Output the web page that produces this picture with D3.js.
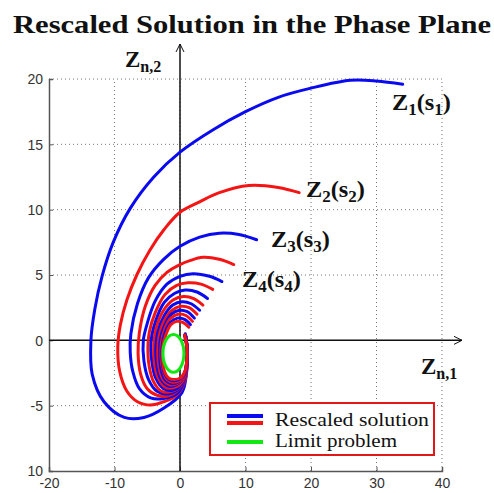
<!DOCTYPE html>
<html>
<head>
<meta charset="utf-8">
<script src="https://cdn.jsdelivr.net/npm/d3@7"></script>
<style>
  html, body { margin: 0; padding: 0; background: #fff; }
  svg { display: block; }
</style>
</head>
<body>
<svg id="chart" width="494" height="493"></svg>
<script>
// Axis ranges and tick labels
const xDomain = [-20, 40];
const yDomain = [-10, 20];
const xTicks = [-20, -10, 0, 10, 20, 30, 40];
const xTickLabels = ["-20", "-10", "0", "10", "20", "30", "40"];
const yTicks = [-10, -5, 0, 5, 10, 15, 20];
const yTickLabels = ["10", "-5", "0", "5", "10", "15", "20"];

// Trajectories of the rescaled solution, (z1, z2) pairs, outermost first
const traj1 = [[34,19.6],[30,19.85],[26,19.9],[20,19.3],[15,18.6],[10,17.5],[5,16.1],[0,14.4],[-4,12.5],[-7.6,10.1],[-10.2,7.5],[-11.9,4.9],[-13,2.4],[-13.6,0],[-13.4,-2.6],[-11.6,-4.7],[-8.5,-5.9],[-5.5,-5.9],[-2.5,-5.2],[0.3,-4.0],[1.0,-2.5],[1.1,-0.8],[0.8,0.5]];
const traj2 = [[18.2,11.3],[15,11.7],[10.5,11.85],[6,11.3],[3,10.6],[0,9.8],[-2.4,8.5],[-4.6,6.9],[-6.6,5.0],[-8.1,3.1],[-9.1,1.2],[-9.5,-0.5],[-9.2,-2.4],[-8.1,-3.9],[-6.5,-4.7],[-4.5,-4.95],[-2.5,-4.7],[-0.5,-4.2],[0.8,-3],[1.1,-1.2],[0.9,0.3]];
const traj3 = [[11.7,7.7],[9,8.1],[6,8.2],[3,7.9],[0,7.2],[-2.5,6.2],[-4.8,4.8],[-6.5,2.8],[-7.5,0.5],[-7.6,-0.9],[-7.2,-2.4],[-6.2,-3.7],[-4.5,-4.4],[-2.5,-4.45],[-0.3,-4.0],[0.8,-2.8],[1.1,-1.2],[0.9,0.3]];
const traj4 = [[8.2,5.8],[6,6.2],[3.5,6.35],[1.5,6.1],[0,5.8],[-2,5.2],[-3.8,4.2],[-5.3,2.6],[-6.2,0.6],[-6.4,-1.0],[-6.0,-2.6],[-5.0,-3.7],[-3.5,-4.2],[-1.8,-4.25],[-0.3,-3.8],[0.8,-2.7],[1.1,-1.2],[0.9,0.3]];
const traj5 = [[6.4,4.5],[4.5,4.9],[2,5.1],[0,4.9],[-2,4.3],[-3.8,3],[-5,1.3],[-5.6,0],[-5.5,-1.6],[-4.8,-3],[-3.5,-3.9],[-1.8,-4.1],[-0.2,-3.7],[0.8,-2.6],[1.1,-1.1],[0.9,0.3]];
const traj6 = [[5,3.9],[3.2,4.3],[1.2,4.4],[-0.5,4.2],[-2.3,3.5],[-3.8,2.1],[-4.7,0.6],[-4.9,-0.5],[-4.7,-2],[-4,-3.2],[-2.8,-3.9],[-1.2,-3.9],[0.2,-3.4],[1,-2.2],[1.1,-0.8],[0.8,0.4]];
const traj7 = [[4.2,3.2],[2.6,3.7],[0.8,3.85],[-0.8,3.6],[-2.4,2.9],[-3.7,1.5],[-4.4,0],[-4.3,-1.6],[-3.7,-2.9],[-2.5,-3.7],[-1,-3.8],[0.3,-3.3],[1,-2.1],[1.1,-0.7],[0.8,0.4]];
const traj8 = [[3.5,2.7],[2.1,3.2],[0.5,3.35],[-1,3.1],[-2.5,2.3],[-3.6,1],[-4,-0.3],[-3.9,-1.8],[-3.3,-2.9],[-2.2,-3.6],[-0.8,-3.6],[0.4,-3.1],[1,-2],[1.1,-0.6],[0.8,0.4]];
const traj9 = [[3,2.3],[1.7,2.8],[0.3,2.95],[-1.1,2.7],[-2.4,1.9],[-3.4,0.6],[-3.7,-0.7],[-3.5,-2],[-2.9,-3],[-1.8,-3.5],[-0.5,-3.4],[0.5,-2.9],[1.05,-1.8],[1.1,-0.5],[0.8,0.4]];
const traj10 = [[2.6,2],[1.4,2.5],[0.1,2.6],[-1.2,2.3],[-2.4,1.5],[-3.2,0.3],[-3.4,-0.9],[-3.2,-2.1],[-2.6,-3],[-1.6,-3.4],[-0.4,-3.3],[0.6,-2.8],[1.05,-1.7],[1.1,-0.5],[0.8,0.4]];
const traj11 = [[2.2,1.7],[1.1,2.2],[-0.1,2.3],[-1.3,2],[-2.3,1.2],[-3,0.1],[-3.1,-1.1],[-2.9,-2.2],[-2.3,-3],[-1.4,-3.3],[-0.3,-3.2],[0.6,-2.7],[1.05,-1.6],[1.05,-0.4],[0.8,0.4]];
const traj12 = [[1.9,1.45],[0.9,1.9],[-0.3,2.0],[-1.4,1.7],[-2.3,0.9],[-2.85,-0.2],[-2.9,-1.3],[-2.6,-2.3],[-2,-3],[-1.1,-3.2],[-0.1,-3.1],[0.7,-2.5],[1.05,-1.5],[1.0,-0.4],[0.7,0.4]];
const traj13 = [[1.6,1.2],[0.7,1.6],[-0.4,1.7],[-1.4,1.4],[-2.2,0.7],[-2.7,-0.3],[-2.75,-1.4],[-2.45,-2.4],[-1.8,-2.95],[-0.9,-3.1],[0,-2.95],[0.75,-2.4],[1.05,-1.4],[1.0,-0.3],[0.7,0.4]];
const traj14 = [[1.35,1.0],[0.5,1.35],[-0.5,1.45],[-1.4,1.2],[-2.1,0.5],[-2.6,-0.4],[-2.65,-1.5],[-2.35,-2.4],[-1.7,-2.9],[-0.8,-3.0],[0.1,-2.85],[0.8,-2.3],[1.05,-1.3],[1.0,-0.3],[0.7,0.4]];
const trajectories = [traj1, traj2, traj3, traj4, traj5, traj6, traj7, traj8, traj9, traj10, traj11, traj12, traj13, traj14];
const trajColors = ["blue", "red"];

// Limit problem: closed orbit (centre and half-axes)
const limitCenter = [-1.0, -1.0];
const limitRadii = [1.6, 1.45];

// Curve labels Z_k(s_k)
const curveLabels = ["1", "2", "3", "4"];

const COLORS = { blue: "#0a0af0", red: "#f41414", green: "#12e812" };

const svg = d3.select("#chart");
const x = d3.scaleLinear().domain(xDomain).range([49, 442]);
const y = d3.scaleLinear().domain(yDomain).range([471, 79]);

const TICK_FONT = "Liberation Sans, Arial, sans-serif";
const SERIF = "Liberation Serif, 'DejaVu Serif', serif";

// Title
svg.append("text")
  .attr("x", 252).attr("y", 33)
  .attr("text-anchor", "middle")
  .attr("font-family", SERIF)
  .attr("font-weight", "bold")
  .attr("font-size", 26)
  .attr("textLength", 478)
  .attr("lengthAdjust", "spacingAndGlyphs")
  .attr("fill", "#111")
  .text("Rescaled Solution in the Phase Plane");

// Dotted grid
const grid = svg.append("g");
grid.selectAll("line.gx").data(xTicks.filter(d => d !== xDomain[0])).join("line")
  .attr("x1", d => x(d)).attr("x2", d => x(d))
  .attr("y1", y(yDomain[0])).attr("y2", y(yDomain[1]))
  .attr("stroke", "#777").attr("stroke-width", 1).attr("stroke-dasharray", "1,3");
grid.selectAll("line.gy").data(yTicks.filter(d => d !== yDomain[0])).join("line")
  .attr("x1", x(xDomain[0])).attr("x2", x(xDomain[1]))
  .attr("y1", d => y(d)).attr("y2", d => y(d))
  .attr("stroke", "#777").attr("stroke-width", 1).attr("stroke-dasharray", "1,3");

// Left and bottom axes with inward ticks
const xAxis = d3.axisBottom(x).tickValues(xTicks).tickSize(-4).tickPadding(9)
  .tickFormat((d, i) => xTickLabels[i]);
const yAxis = d3.axisLeft(y).tickValues(yTicks).tickSize(-4).tickPadding(6)
  .tickFormat((d, i) => yTickLabels[i]);

const gx = svg.append("g").attr("transform", `translate(0,${y(yDomain[0])})`).call(xAxis);
const gy = svg.append("g").attr("transform", `translate(${x(xDomain[0])},0)`).call(yAxis);
[gx, gy].forEach(g => {
  g.select(".domain").attr("stroke", "#555").attr("stroke-width", 1.5);
  g.selectAll(".tick line").attr("stroke", "#555");
  g.selectAll(".tick text")
    .attr("font-family", TICK_FONT).attr("font-size", 14).attr("fill", "#333");
});
gx.selectAll(".tick text").attr("dy", "0.55em");
gy.selectAll(".tick text").attr("dy", "0.35em");

// Coordinate axes through the origin with arrow heads
const axisColor = "#111";
svg.append("line")
  .attr("x1", x(0)).attr("x2", x(0)).attr("y1", 44).attr("y2", y(yDomain[0]))
  .attr("stroke", axisColor).attr("stroke-width", 1.5);
svg.append("path")
  .attr("d", `M${x(0) - 4},${52} L${x(0)},${44} L${x(0) + 4},${52}`)
  .attr("fill", "none").attr("stroke", axisColor).attr("stroke-width", 1);
svg.append("line")
  .attr("x1", x(xDomain[0])).attr("x2", 462).attr("y1", y(0)).attr("y2", y(0))
  .attr("stroke", axisColor).attr("stroke-width", 1.5);
svg.append("path")
  .attr("d", `M${454},${y(0) - 4} L${462},${y(0)} L${454},${y(0) + 4}`)
  .attr("fill", "none").attr("stroke", axisColor).attr("stroke-width", 1);

// Trajectories
const line = d3.line().x(d => x(d[0])).y(d => y(d[1])).curve(d3.curveCatmullRom.alpha(0.5));
svg.append("g").selectAll("path").data(trajectories).join("path")
  .attr("d", line)
  .attr("fill", "none")
  .attr("stroke", (d, i) => COLORS[trajColors[i % 2]])
  .attr("stroke-width", 3)
  .attr("stroke-linecap", "round")
  .attr("stroke-linejoin", "round");

// Limit problem orbit
svg.append("ellipse")
  .attr("cx", x(limitCenter[0])).attr("cy", y(limitCenter[1]))
  .attr("rx", x(limitCenter[0] + limitRadii[0]) - x(limitCenter[0]))
  .attr("ry", y(limitCenter[1]) - y(limitCenter[1] + limitRadii[1]))
  .attr("fill", "#fff")
  .attr("stroke", COLORS.green).attr("stroke-width", 3);

// Subscripted bold serif labels
function subLabel(parent, px, py, parts, size) {
  const t = parent.append("text")
    .attr("x", px).attr("y", py)
    .attr("font-family", SERIF).attr("font-weight", "bold")
    .attr("font-size", size).attr("fill", "#111");
  parts.forEach(p => {
    const s = t.append("tspan").text(p.t);
    if (p.sub) s.attr("font-size", size * 0.7).attr("dy", size * 0.2);
    else if (p.after) s.attr("dy", -size * 0.2);
  });
  return t;
}
const labelPos = [[392, 110], [306, 197], [271, 247], [242, 287]];
curveLabels.forEach((k, i) => {
  subLabel(svg, labelPos[i][0], labelPos[i][1],
    [{ t: "Z" }, { t: k, sub: true }, { t: "(s", after: true }, { t: k, sub: true }, { t: ")", after: true }], 23)
    .attr("textLength", 59).attr("lengthAdjust", "spacingAndGlyphs");
});

// Axis names
subLabel(svg, 125, 67, [{ t: "Z" }, { t: "n,2", sub: true }], 23);
subLabel(svg, 421, 374, [{ t: "Z" }, { t: "n,1", sub: true }], 23);

// Legend
const legend = svg.append("g");
legend.append("rect")
  .attr("x", 210).attr("y", 403).attr("width", 224).attr("height", 52)
  .attr("fill", "#fff").attr("stroke", "#e01818").attr("stroke-width", 2);
const legendLines = [[416, COLORS.blue], [423, COLORS.red], [442, COLORS.green]];
legend.selectAll("line").data(legendLines).join("line")
  .attr("x1", 227).attr("x2", 263)
  .attr("y1", d => d[0]).attr("y2", d => d[0])
  .attr("stroke", d => d[1]).attr("stroke-width", 4);
const legendText = [["Rescaled solution", 426, 154], ["Limit problem", 447, 122]];
legend.selectAll("text").data(legendText).join("text")
  .attr("x", 275).attr("y", d => d[1])
  .attr("font-family", SERIF).attr("font-size", 19).attr("fill", "#111")
  .attr("textLength", d => d[2]).attr("lengthAdjust", "spacingAndGlyphs")
  .text(d => d[0]);
</script>
</body>
</html>
